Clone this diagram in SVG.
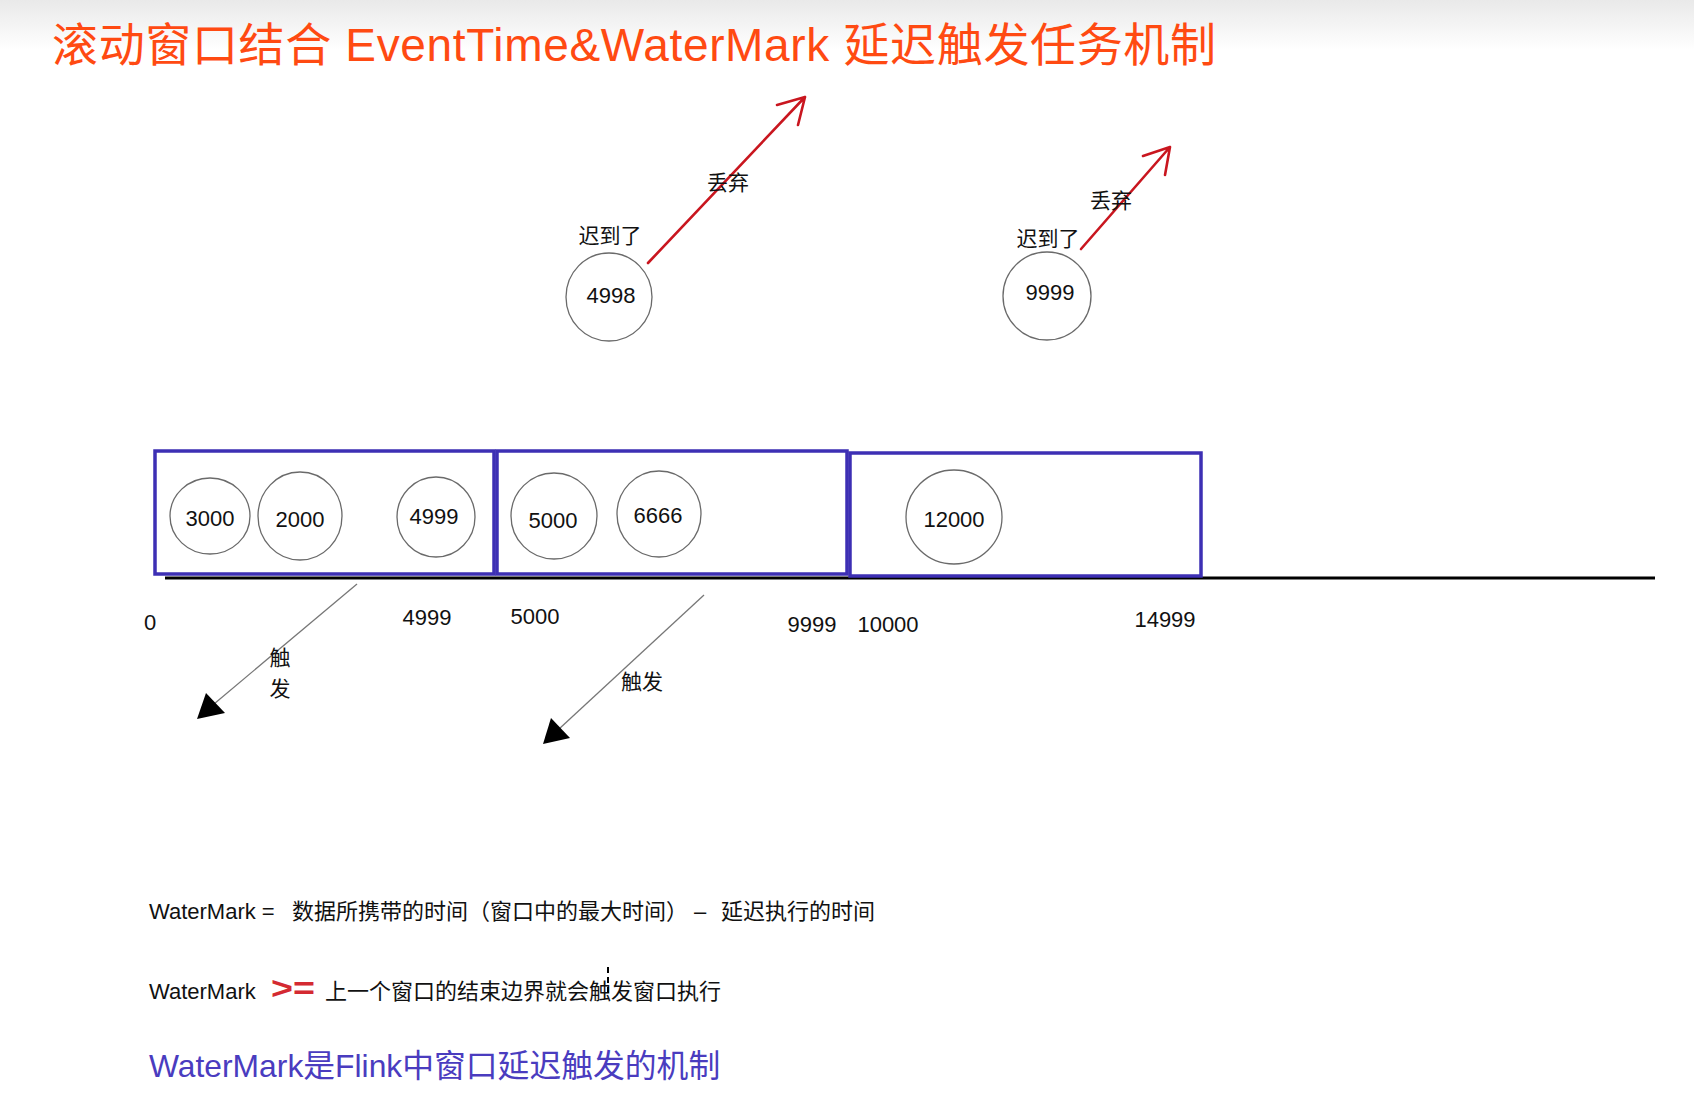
<svg xmlns="http://www.w3.org/2000/svg" width="1694" height="1114" viewBox="0 0 1694 1114">
  <defs>
    <linearGradient id="topfade" x1="0" y1="0" x2="0" y2="1">
      <stop offset="0" stop-color="#e9e9e9"/>
      <stop offset="1" stop-color="#ffffff"/>
    </linearGradient>
    <style>
      .t { font-family: "Liberation Sans", "Noto Sans CJK SC", sans-serif; fill: #111; }
      .num { font-size: 22px; text-anchor: middle; }
      .lbl { font-size: 21px; text-anchor: middle; }
      .dot { fill: #fff; stroke: #6a6a6a; stroke-width: 1.3; }
      .win { fill: none; stroke: #3d2fb4; stroke-width: 3.5; }
      .red { fill: none; stroke: #c9161f; stroke-width: 2.6; stroke-linecap: round; stroke-linejoin: round; }
      .thin { fill: none; stroke: #777; stroke-width: 1.3; }
      .head { fill: #000; }
    </style>
  </defs>

  <rect x="0" y="0" width="1694" height="1114" fill="#ffffff"/>
  <rect x="0" y="0" width="1694" height="50" fill="url(#topfade)"/>

  <g id="title">
    <text class="t" x="52" y="61" font-size="46" style="fill:#ff4a12" textLength="1164" lengthAdjust="spacing">滚动窗口结合 EventTime&amp;WaterMark 延迟触发任务机制</text>
  </g>

  <g id="timeline">
    <line x1="165" y1="578" x2="1655" y2="578" stroke="#000" stroke-width="3.2"/>
  </g>

  <g id="window1">
    <rect class="win" x="155" y="451" width="339" height="123"/>
  </g>
  <g id="window2">
    <rect class="win" x="497" y="451" width="350" height="123"/>
  </g>
  <g id="window3">
    <rect class="win" x="850" y="453" width="351" height="123"/>
  </g>

  <g id="ev3000">
    <ellipse class="dot" cx="210" cy="516" rx="40" ry="38"/>
    <text class="t num" x="210" y="526">3000</text>
  </g>
  <g id="ev2000">
    <ellipse class="dot" cx="300" cy="516" rx="42" ry="44"/>
    <text class="t num" x="300" y="527">2000</text>
  </g>
  <g id="ev4999">
    <ellipse class="dot" cx="436" cy="517" rx="39" ry="40"/>
    <text class="t num" x="434" y="524">4999</text>
  </g>
  <g id="ev5000">
    <ellipse class="dot" cx="554" cy="516" rx="43" ry="43"/>
    <text class="t num" x="553" y="528">5000</text>
  </g>
  <g id="ev6666">
    <ellipse class="dot" cx="659" cy="514" rx="42" ry="43"/>
    <text class="t num" x="658" y="523">6666</text>
  </g>
  <g id="ev12000">
    <ellipse class="dot" cx="954" cy="517" rx="48" ry="47"/>
    <text class="t num" x="954" y="527">12000</text>
  </g>

  <g id="late4998">
    <ellipse class="dot" cx="609" cy="297" rx="43" ry="44"/>
    <text class="t num" x="611" y="303">4998</text>
    <text class="t lbl" x="610" y="243">迟到了</text>
  </g>
  <g id="late9999">
    <ellipse class="dot" cx="1047" cy="296" rx="44" ry="44"/>
    <text class="t num" x="1050" y="300">9999</text>
    <text class="t lbl" x="1048" y="246">迟到了</text>
  </g>

  <g id="axis-labels">
    <text class="t num" x="150" y="630">0</text>
    <text class="t num" x="427" y="625">4999</text>
    <text class="t num" x="535" y="624">5000</text>
    <text class="t num" x="812" y="632">9999</text>
    <text class="t num" x="888" y="632">10000</text>
    <text class="t num" x="1165" y="627">14999</text>
  </g>

  <g id="connectors">
    <path class="red" d="M648 263 L805 97 M777 105 L805 97 L798 125"/>
    <path class="red" d="M1081 249 L1170 147 M1143 156 L1170 147 L1165 175"/>
    <text class="t lbl" x="728" y="190">丢弃</text>
    <text class="t lbl" x="1111" y="208">丢弃</text>

    <line class="thin" x1="357" y1="584" x2="214" y2="704"/>
    <polygon class="head" points="197,719 206,693 225,713"/>
    <text class="t lbl" x="280" y="665">触</text>
    <text class="t lbl" x="280" y="696">发</text>

    <line class="thin" x1="704" y1="595" x2="559" y2="729"/>
    <polygon class="head" points="543,744 551,718 570,738"/>
    <text class="t lbl" x="642" y="689">触发</text>
  </g>

  <g id="notes">
    <text class="t" font-size="22" y="919"><tspan x="149">WaterMark = </tspan><tspan x="292">数据所携带的时间（窗口中的最大时间） – </tspan><tspan x="721">延迟执行的时间</tspan></text>
    <text class="t" font-size="22" y="999"><tspan x="149">WaterMark </tspan><tspan x="271" font-size="31" font-weight="bold" style="fill:#d42a32" textLength="44" lengthAdjust="spacingAndGlyphs">&gt;=</tspan><tspan x="325">上一个窗口的结束边界就会触发窗口执行</tspan></text>
    <line x1="608" y1="967" x2="608" y2="995" stroke="#000" stroke-width="2" stroke-dasharray="6 4"/>
    <text class="t" x="149" y="1077" font-size="31.8" style="fill:#4a3cbf">WaterMark是Flink中窗口延迟触发的机制</text>
  </g>
</svg>
